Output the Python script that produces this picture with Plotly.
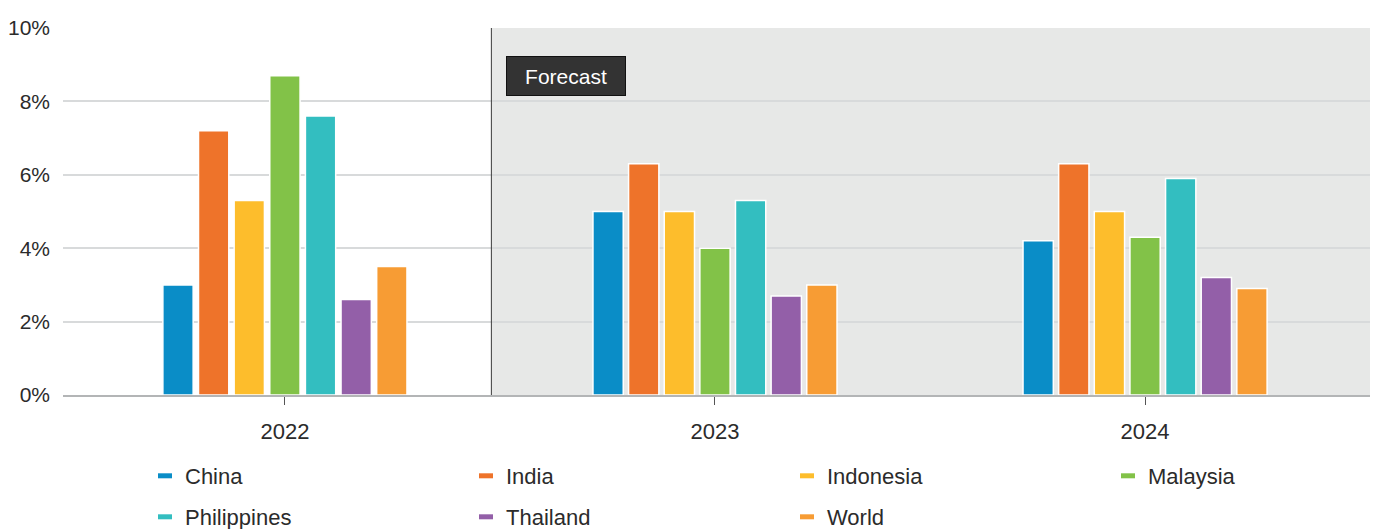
import plotly.graph_objects as go

years = ["2022", "2023", "2024"]
countries = ["China", "India", "Indonesia", "Malaysia", "Philippines", "Thailand", "World"]
china = [3.0, 5.0, 4.2]
india = [7.2, 6.3, 6.3]
indonesia = [5.3, 5.0, 5.0]
malaysia = [8.7, 4.0, 4.3]
philippines = [7.6, 5.3, 5.9]
thailand = [2.6, 2.7, 3.2]
world = [3.5, 3.0, 2.9]
series = [china, india, indonesia, malaysia, philippines, thailand, world]
colors = ["#0a8dc7", "#ee732a", "#fdbd2c", "#82c248", "#33bec0", "#935fa8", "#f79c34"]
y_ticks = [0, 2, 4, 6, 8, 10]
y_tick_labels = ["0%", "2%", "4%", "6%", "8%", "10%"]
forecast_label = "Forecast"

FONT = "Liberation Sans, Arial, sans-serif"
TXT = "#2b2b2b"

fig = go.Figure()
for name, vals, col in zip(countries, series, colors):
    fig.add_trace(go.Bar(
        x=years, y=vals, name=name, marker=dict(color=col, line=dict(color="white", width=1.5)),
        showlegend=False, legendgroup=name,
    ))

for i, (name, col) in enumerate(zip(countries, colors)):
    fig.add_trace(go.Scatter(
        x=[None], y=[None], mode="markers", name=name, legendgroup=name,
        marker=dict(symbol="line-ew", size=10, color=col, line=dict(width=6, color=col)),
        legend="legend" if i < 4 else "legend2",
    ))

# forecast shading and divider
fig.add_shape(type="rect", xref="x", yref="y", x0=0.48, x1=2.6, y0=0, y1=10,
              fillcolor="#e7e8e7", line=dict(width=0), layer="below")
fig.add_shape(type="line", xref="x", yref="y", x0=0.48, x1=0.48, y0=0, y1=10,
              line=dict(color="#3a3a3a", width=1), layer="above")

fig.add_annotation(
    x=0.48, xref="x", y=10, yref="y", xanchor="left", yanchor="top",
    xshift=15, yshift=-28, text=forecast_label, showarrow=False,
    font=dict(family=FONT, size=21, color="white"),
    bgcolor="#333333", bordercolor="#111111", borderwidth=1, borderpad=7,
    width=104, height=24,
)

legend_common = dict(orientation="h", xref="container", yref="container", xanchor="left",
                     yanchor="middle", entrywidth=276, entrywidthmode="pixels", itemwidth=30,
                     font=dict(family=FONT, size=22, color=TXT), bgcolor="rgba(0,0,0,0)")

fig.update_layout(
    width=1376, height=529,
    margin=dict(l=63, r=6, t=28, b=134, autoexpand=False),
    paper_bgcolor="white", plot_bgcolor="white",
    barmode="group", bargap=0.42, bargroupgap=0.15,
    font=dict(family=FONT, color=TXT, size=21),
    legend=dict(x=145 / 1376, y=1 - 476 / 529, **legend_common),
    legend2=dict(x=145 / 1376, y=1 - 517 / 529, **legend_common),
    xaxis=dict(type="category", range=[-0.516, 2.523], showgrid=False, automargin=False,
               showline=True, linecolor="#b3b5b6", linewidth=2,
               ticks="outside", ticklen=8, tickcolor="#555555", tickwidth=1,
               ticklabelstandoff=8, tickfont=dict(size=22, color=TXT)),
    yaxis=dict(range=[0, 10], tickvals=y_ticks, ticktext=y_tick_labels, showgrid=True,
               automargin=False,
               gridcolor="#d8dadb", gridwidth=1.5, zeroline=False, showline=False,
               ticklabelstandoff=12, tickfont=dict(size=21, color=TXT)),
)

fig.write_html("out.html", config={"displayModeBar": False},
               post_script="document.body.style.margin='0';document.body.style.overflow='hidden';")
